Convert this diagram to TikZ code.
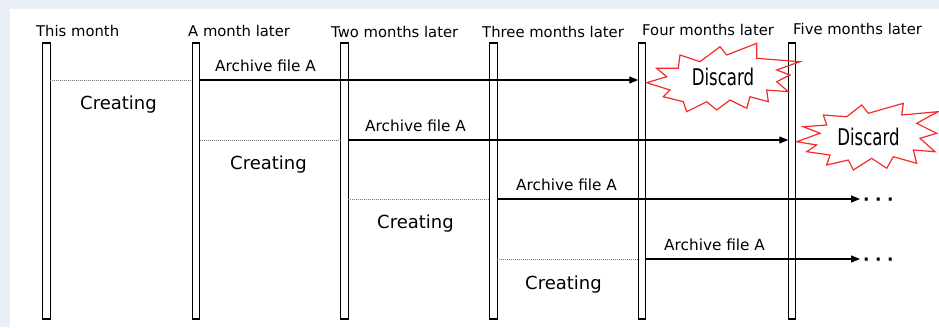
\documentclass[tikz,border=0pt]{standalone}
\usepackage{fontspec}
\setmainfont{DejaVu Sans}
\usetikzlibrary{arrows.meta}
\definecolor{framebg}{HTML}{E8EFF7}
\definecolor{burstred}{HTML}{F52A2A}
\begin{document}
\begin{tikzpicture}[x=1pt,y=-1pt,
  pillar/.style={draw=black,line width=1.3pt,minimum width=7.5pt,minimum height=276pt,inner sep=0pt,outer sep=0pt},
  head/.style={anchor=base west,inner sep=0pt,font=\fontsize{14.8}{16}\selectfont},
  label/.style={anchor=base west,inner sep=0pt,font=\fontsize{15.3}{17}\selectfont},
  creating/.style={anchor=base west,inner sep=0pt,font=\fontsize{18}{20}\selectfont},
  flow/.style={draw=black,line width=1.2pt,-{Triangle[length=9pt,width=7pt]}},
  pending/.style={draw=black!55,line width=0.8pt,dash pattern=on 1pt off 1pt},
  burst/.style={draw=burstred,line width=1.2pt,line join=miter},
  discard/.style={inner sep=0pt,font=\fontsize{23}{24}\selectfont},
  more/.style={anchor=base west,inner sep=0pt,font=\fontsize{17}{17}\bfseries}]
% canvas
\fill[framebg] (0,0) rectangle (939,327);
\fill[white] (10,9) rectangle (939,327);
\useasboundingbox (0,0) rectangle (939,327);

% month headers
\node[head] (h1) at (36,36) {This month};
\node[head] (h2) at (188,36) {A month later};
\node[head] (h3) at (331,37) {Two months later};
\node[head] (h4) at (482,37) {Three months later};
\node[head] (h5) at (642,35) {Four months later};
\node[head] (h6) at (793,34) {Five months later};

% time pillars
\node[pillar] (p1) at (46.5,181) {};
\node[pillar] (p2) at (196,181) {};
\node[pillar] (p3) at (344.5,181) {};
\node[pillar] (p4) at (493.5,181) {};
\node[pillar] (p5) at (642,181) {};
\node[pillar] (p6) at (792,181) {};

% open ends of the last two archives
\coordinate (e3) at (860,199);
\coordinate (e4) at (860,259);

% creation periods
\draw[pending] (p1.east |- 0,80) -- (p2.west |- 0,80);
\draw[pending] (p2.east |- 0,140) -- (p3.west |- 0,140);
\draw[pending] (p3.east |- 0,199) -- (p4.west |- 0,199);
\draw[pending] (p4.east |- 0,259) -- (p5.west |- 0,259);
\node[creating] (c1) at (80,109) {Creating};
\node[creating] (c2) at (230,169) {Creating};
\node[creating] (c3) at (377,228) {Creating};
\node[creating] (c4) at (525,289) {Creating};

% archive lifetimes
\draw[flow] (p2.east |- 0,80) -- (p5.west |- 0,80);
\draw[flow] (p3.east |- 0,140) -- (p6.west |- 0,140);
\draw[flow] (p4.east |- 0,199) -- (e3);
\draw[flow] (p5.east |- 0,259) -- (e4);
\node[label] (a1) at (215,71) {Archive file A};
\node[label] (a2) at (365,131) {Archive file A};
\node[label] (a3) at (516,190) {Archive file A};
\node[label] (a4) at (664,250) {Archive file A};
\node[more] (m3) at (863,205.5) {·\hspace{5.5pt}·\hspace{5.5pt}·};
\node[more] (m4) at (863,265.5) {·\hspace{5.5pt}·\hspace{5.5pt}·};

% discard bursts
\draw[burst] (646.7,82.7) -- (666.7,76.7) -- (656.7,68.3) -- (678.3,68.3) -- (680,55)
  -- (700,61.7) -- (720,46.7) -- (726.7,55) -- (756.7,43.3) -- (756.7,58.3)
  -- (800,61.7) -- (776.7,70) -- (790,75) -- (776.7,81.7) -- (788.3,91.7)
  -- (766.7,90) -- (768.3,101.7) -- (750,96.7) -- (746.7,108.3) -- (730,100)
  -- (716.7,110) -- (706.7,101.7) -- (686.7,111.7) -- (683.3,101.7) -- (663.3,96.7)
  -- (670,90) -- cycle;
\draw[burst] (796.7,141.7) -- (820,133.3) -- (803.3,126.7) -- (826.7,125) -- (823.3,115)
  -- (846.7,116.7) -- (861.7,105) -- (868.3,113.3) -- (903.3,103.3) -- (901.7,115)
  -- (938,111.7) -- (916.7,123.3) -- (936.7,133.3) -- (920,138.3) -- (935,151.7)
  -- (913.3,150) -- (916.7,163.3) -- (893.3,156.7) -- (886.7,168.3) -- (871.7,158.3)
  -- (853.3,170) -- (848.3,160) -- (826.7,165) -- (830,155) -- (806.7,151.7)
  -- (816.7,145) -- cycle;
\node[discard] (d1) at (723,77) {\scalebox{0.72}[1]{Discard}};
\node[discard] (d2) at (868.5,137) {\scalebox{0.72}[1]{Discard}};
\end{tikzpicture}
\end{document}
